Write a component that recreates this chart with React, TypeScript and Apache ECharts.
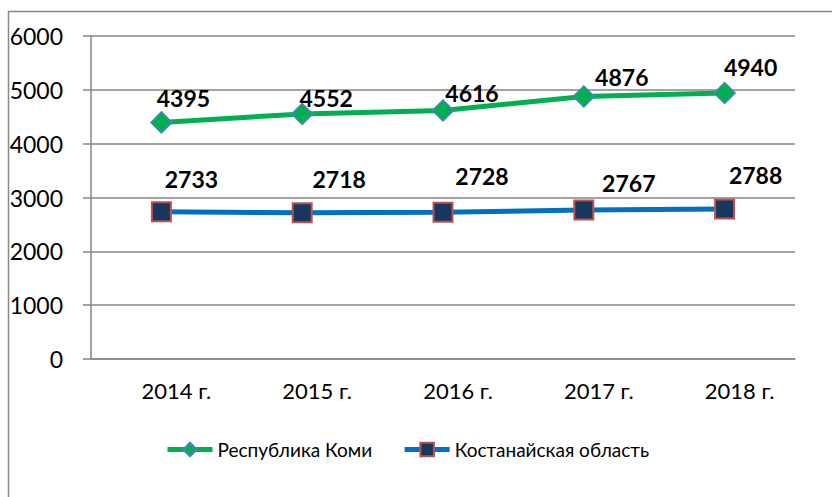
import React, { useEffect, useRef } from "react";
import * as echarts from "echarts";

const categories = ["2014 г.", "2015 г.", "2016 г.", "2017 г.", "2018 г."];
const komiValues = [4395, 4552, 4616, 4876, 4940];
const kostanayValues = [2733, 2718, 2728, 2767, 2788];
const yTicks = { min: 0, max: 6000, interval: 1000 };
const seriesNames = ["Республика Коми", "Костанайская область"];

const komiLabelOffsets = [[22, -24], [24, -16], [29, -18], [38, -20], [26, -26]];
const kostanayLabelOffsets = [[30, -33], [37, -34], [39, -36], [45, -27], [31, -34]];

const FONT = "Lato";

export default function App() {
  const ref = useRef<HTMLDivElement>(null);
  useEffect(() => {
    if (!ref.current) return;
    const chart = echarts.init(ref.current, null, { renderer: "svg" });
    const labelStyle = {
      show: true,
      position: "inside",
      fontFamily: FONT,
      fontWeight: "bold",
      fontSize: 23,
      color: "#000",
    };
    chart.setOption({
      animation: false,
      backgroundColor: "#fff",
      graphic: [
        {
          type: "rect",
          shape: { x: 8.5, y: 11.5, width: 840, height: 500 },
          style: { fill: "none", stroke: "#898989", lineWidth: 1.5 },
          silent: true,
        },
      ],
      grid: { left: 91, top: 36, right: 37, bottom: 138, containLabel: false },
      legend: {
        left: 165,
        top: 440,
        itemWidth: 45,
        itemHeight: 17,
        itemGap: 30,
        padding: 0,
        textStyle: { fontFamily: FONT, fontSize: 19, color: "#000" },
        data: [
          { name: seriesNames[0], lineStyle: { width: 5, color: "#00B050" } },
          { name: seriesNames[1], lineStyle: { width: 5, color: "#0070C0" } },
        ],
      },
      xAxis: {
        type: "category",
        data: categories,
        boundaryGap: true,
        axisLine: { lineStyle: { color: "#868686", width: 1.5 } },
        axisTick: { show: false },
        axisLabel: {
          fontFamily: FONT,
          fontSize: 22,
          color: "#000",
          margin: 20,
          padding: [0, 0, 0, 30],
        },
      },
      yAxis: {
        type: "value",
        min: yTicks.min,
        max: yTicks.max,
        interval: yTicks.interval,
        axisLine: { show: true, lineStyle: { color: "#868686", width: 1.5 } },
        axisTick: { show: true, length: 8, lineStyle: { color: "#868686", width: 1.5 } },
        splitLine: { lineStyle: { color: "#868686", width: 1.5 } },
        axisLabel: {
          fontFamily: FONT,
          fontSize: 23,
          color: "#000",
          margin: 28,
          formatter: (v: number) => String(v),
        },
      },
      series: [
        {
          name: seriesNames[0],
          type: "line",
          data: komiValues.map((v, i) => ({ value: v, label: { offset: komiLabelOffsets[i] } })),
          symbol: "diamond",
          symbolSize: 21,
          lineStyle: { color: "#00B050", width: 5 },
          itemStyle: { color: "#00B050", borderColor: "#4F81BD", borderWidth: 1.5 },
          label: labelStyle,
          z: 3,
        },
        {
          name: seriesNames[1],
          type: "line",
          data: kostanayValues.map((v, i) => ({ value: v, label: { offset: kostanayLabelOffsets[i] } })),
          symbol: "rect",
          symbolSize: 19,
          lineStyle: { color: "#0070C0", width: 5 },
          itemStyle: { color: "#17375E", borderColor: "#C0504D", borderWidth: 2 },
          label: labelStyle,
          z: 3,
        },
      ],
    });
    return () => chart.dispose();
  }, []);
  return (
    <div
      ref={ref}
      style={{ position: "fixed", left: 0, top: 0, width: 832, height: 497 }}
    />
  );
}
